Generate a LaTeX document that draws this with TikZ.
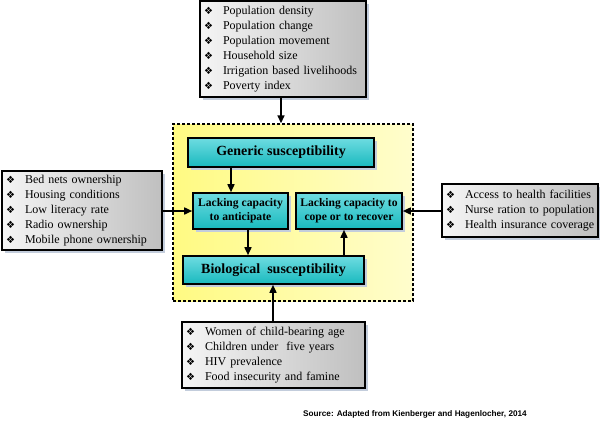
\documentclass[tikz,border=0pt]{standalone}
\usepackage{fontspec}
\setmainfont{Liberation Serif}
\newfontfamily\dv{DejaVu Sans}
\newfontfamily\srcfont{Liberation Sans}
\usetikzlibrary{arrows.meta,shadows,calc}
\hyphenpenalty=10000
\exhyphenpenalty=10000
\newcommand{\bul}{\hspace*{3pt}\makebox[19pt][l]{\fontsize{10}{10}\selectfont\dv ❖}}
\begin{document}
\begin{tikzpicture}[x=1pt,y=-1pt,
  shadowc/.style={drop shadow={shadow xshift=3pt,shadow yshift=-3pt,fill={rgb,255:red,195;green,205;blue,220},opacity=1}},
  gbox/.style={draw=black,line width=1.6pt,left color=gray!8,right color=gray!50,shadowc,
    align=left,inner xsep=1pt,inner ysep=0pt,font=\fontsize{12}{15}\selectfont},
  cbox/.style={draw=black,line width=1.6pt,top color={rgb,255:red,110;green,220;blue,225},
    bottom color={rgb,255:red,25;green,185;blue,190},shadowc,align=center,inner sep=1pt,font=\bfseries},
  frame/.style={draw=black,line width=1.4pt,densely dashed,left color={rgb,255:red,255;green,250;blue,130},right color={rgb,255:red,255;green,253;blue,205}},
  arr/.style={line width=1.6pt,-{Triangle[length=8pt,width=7pt]}}
]
\useasboundingbox (0,0) rectangle (600,424);
% frame
\node[frame,minimum width=240pt,minimum height=177pt] (fr) at (293,212.5) {};
% grey boxes
\node[gbox,minimum width=166pt,minimum height=96pt,text width=164pt] (top) at (283,49)
 {\bul Population density\\\bul Population change\\\bul Population movement\\\bul Household size\\\bul Irrigation based livelihoods\\\bul Poverty index};
\node[gbox,minimum width=160pt,minimum height=79pt,text width=158pt] (lft) at (82,210.5)
 {\bul Bed nets ownership\\\bul Housing conditions\\\bul Low literacy rate\\\bul Radio ownership\\\bul Mobile phone ownership};
\node[gbox,minimum width=156pt,minimum height=53pt,text width=154pt] (rgt) at (520,210.5)
 {\bul Access to health facilities\\\bul Nurse ration to population\\\bul Health insurance coverage};
\node[gbox,minimum width=183pt,minimum height=66pt,text width=181pt] (bot) at (273.5,355)
 {\bul Women of child-bearing age\\\bul Children under\ \ five years\\\bul HIV prevalence\\\bul Food insecurity and famine};
% cyan boxes
\node[cbox,minimum width=186pt,minimum height=29pt,font=\bfseries\fontsize{14}{16}\selectfont] (gen) at (281,152.5) {Generic susceptibility};
\node[cbox,minimum width=95pt,minimum height=36pt,font=\bfseries\fontsize{11.6}{13.8}\selectfont] (ant) at (240.5,211) {Lacking capacity\\to anticipate};
\node[cbox,minimum width=106pt,minimum height=36pt,font=\bfseries\fontsize{11.6}{13.8}\selectfont] (cope) at (349,211) {Lacking capacity to\\cope or to recover};
\node[cbox,minimum width=181pt,minimum height=28pt,font=\bfseries\fontsize{14}{16}\selectfont] (bio) at (273.5,270) {Biological\ \ susceptibility};
% source
\node[font=\srcfont\bfseries\fontsize{8.2}{10}\selectfont,anchor=west,inner sep=0pt] (src) at (303,414) {Source: Adapted from Kienberger and Hagenlocher, 2014};
% coordinates for arrow x positions
\coordinate (xa) at (281,0);
\coordinate (xb) at (231,0);
\coordinate (xc) at (248,0);
\coordinate (xd) at (344,0);
\coordinate (xe) at (273,0);
% arrows
\draw[arr] (top.south -| xa) -- (fr.north -| xa);
\draw[arr] (gen.south -| xb) -- (ant.north -| xb);
\draw[arr] (ant.south -| xc) -- (bio.north -| xc);
\draw[arr] (bio.north -| xd) -- (cope.south -| xd);
\draw[arr] (bot.north -| xe) -- (bio.south -| xe);
\draw[arr] (lft.east |- ant.west) -- (ant.west);
\draw[arr] (rgt.west |- cope.east) -- (cope.east);
\end{tikzpicture}
\end{document}
